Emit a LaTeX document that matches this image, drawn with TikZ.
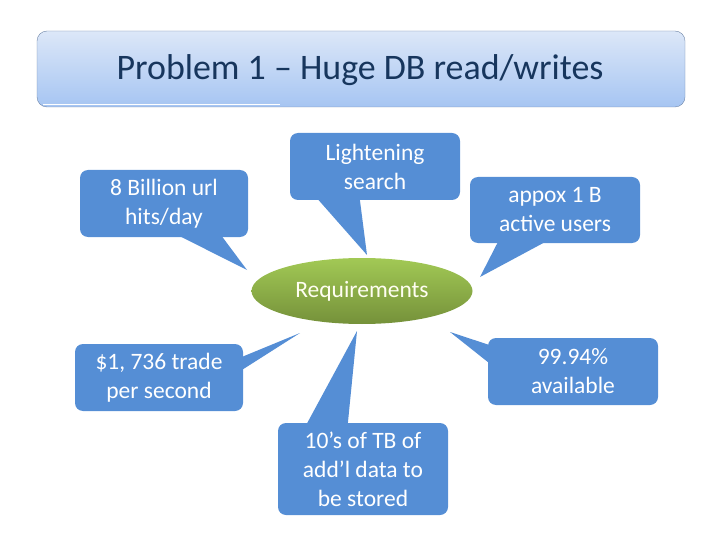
\documentclass[tikz,border=0pt]{standalone}
\usepackage{fontspec}
\setmainfont{Carlito}
\usepackage{tikz}
\usetikzlibrary{calc}
\usetikzlibrary{shapes.geometric}
\usepackage{xcolor}
\definecolor{callblue}{HTML}{558ED5}
\definecolor{titletext}{HTML}{17365D}
\definecolor{titletop}{HTML}{DCE7F8}
\definecolor{titlebot}{HTML}{A6C5F2}
\definecolor{titleline}{HTML}{6E85A6}
\definecolor{reqtop}{HTML}{A2C955}
\definecolor{reqbot}{HTML}{75913A}

\begin{document}
\begin{tikzpicture}[x=1pt,y=-1pt,
  callout/.style={fill=callblue,rounded corners=8pt,text=white,align=center,
    font=\fontsize{23.5}{29}\selectfont,inner sep=0pt},
  tail/.style={fill=callblue}]
\useasboundingbox (0,0) rectangle (720,540);

 \shade[top color=titletop,bottom color=titlebot,draw=titleline,rounded corners=10pt] (37,31) rectangle (685,107);
 \draw[white,line width=1pt] (43,104.5) -- (280,104.5);
 \node[text=titletext,font=\fontsize{35.9}{42}\selectfont] (title) at (360,70) {Problem 1 -- Huge DB read/writes};

 \shade[top color=reqtop,bottom color=reqbot] (362,291) ellipse (110.5 and 33);
 \node[text=white!95!yellow,font=\fontsize{23.5}{29}\selectfont,ellipse,minimum width=221pt,minimum height=66pt,inner sep=0pt] (req) at (362,291) {Requirements};

 \coordinate (t1) at (247,270);
 \coordinate (t2) at (367,255);
 \coordinate (t3) at (480,277);
 \coordinate (t4) at (300,333);
 \coordinate (t5) at (450,332);
 \coordinate (t6) at (357,331);

 \node[callout,minimum width=168pt,minimum height=67pt] (hits) at (164,203.5) {8 Billion url\\hits/day};
 \node[callout,minimum width=170pt,minimum height=67pt] (search) at (375,166.5) {Lightening\\search};
 \node[callout,minimum width=170pt,minimum height=66pt] (users) at (555,210) {appox 1 B\\active users};
 \node[callout,minimum width=168pt,minimum height=67pt] (trade) at (159,377.5) {\$1, 736 trade\\per second};
 \node[callout,minimum width=170pt,minimum height=67pt] (avail) at (573,371.5) {99.94\%\\available};
 \node[callout,minimum width=170pt,minimum height=92pt] (stored) at (363,469) {10’s of TB of\\add’l data to\\be stored};

 \fill[tail] ($(hits.south west)+(100,-1)$) -- (t1) -- ($(hits.south west)+(142,-1)$) -- cycle;
 \fill[tail] ($(search.south west)+(28,-1)$) -- (t2) -- ($(search.south west)+(70,-1)$) -- cycle;
 \fill[tail] ($(users.south west)+(28,-1)$) -- (t3) -- ($(users.south west)+(75,-1)$) -- cycle;
 \fill[tail] ($(trade.north east)+(-1,13)$) -- (t4) -- ($(trade.north east)+(-1,26)$) -- cycle;
 \fill[tail] ($(avail.north west)+(1,7)$) -- (t5) -- ($(avail.north west)+(1,25)$) -- cycle;
 \fill[tail] ($(stored.north west)+(29,1)$) -- (t6) -- ($(stored.north west)+(70,1)$) -- cycle;
\end{tikzpicture}
\end{document}
